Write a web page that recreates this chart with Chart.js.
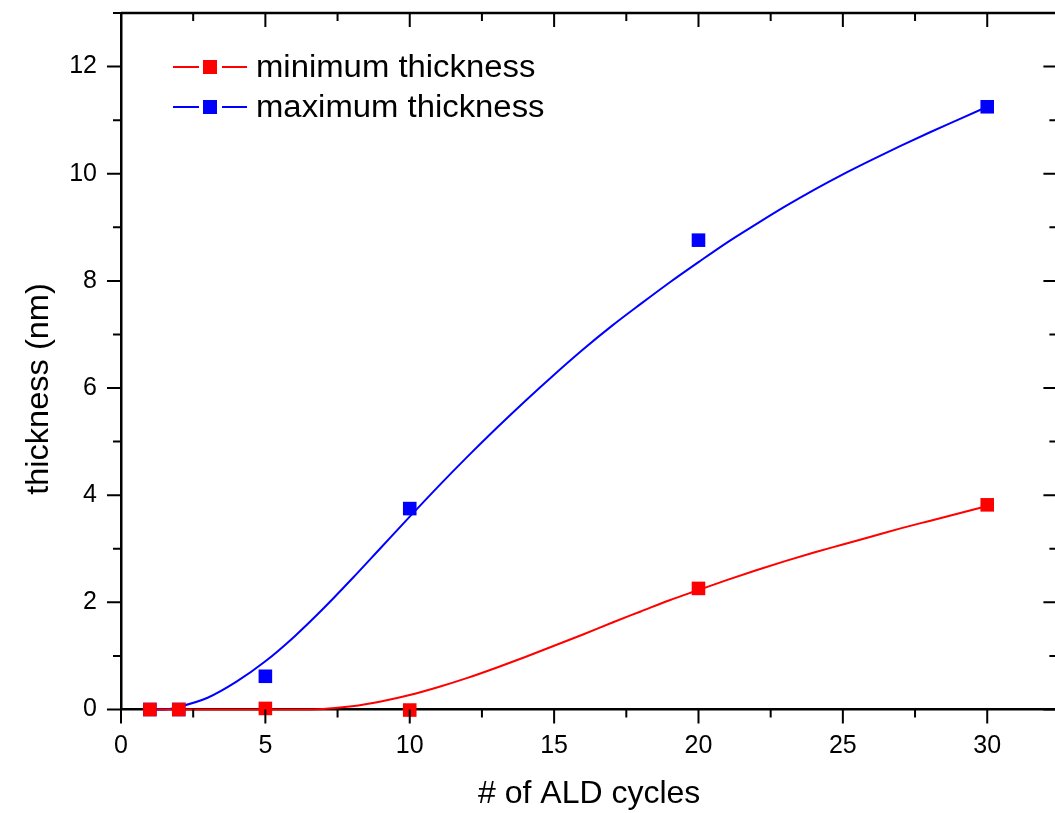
<!DOCTYPE html>
<html>
<head>
<meta charset="utf-8">
<script src="https://cdn.jsdelivr.net/npm/chart.js@4.4.0/dist/chart.umd.min.js"></script>
<style>
  body { margin: 0; background: #fff; overflow: hidden; }
  #box { width: 1055px; height: 813px; overflow: hidden; }
  canvas { display: block; }
</style>
</head>
<body>
<div id="box"><canvas id="grafico" width="1067" height="813"></canvas></div>
<script>
// measured points
var cicli = [1, 2, 5, 10, 20, 30];
var spessoreMin = [0, 0, 0.02, -0.01, 2.26, 3.82];
var spessoreMax = [0, 0, 0.62, 3.75, 8.76, 11.25];

// fitted curves
var fitMinX = [1, 2, 3, 4, 5, 6, 7, 8, 9, 10, 11, 12, 13, 14, 15, 16, 17, 18, 19, 20, 21, 22, 23, 24, 25, 26, 27, 28, 29, 30];
var fitMinY = [0, 0, 0, 0, 0, 0, 0.01, 0.06, 0.15, 0.27, 0.42, 0.59, 0.78, 0.98, 1.19, 1.4, 1.62, 1.83, 2.04, 2.23, 2.42, 2.6, 2.77, 2.93, 3.08, 3.23, 3.38, 3.52, 3.66, 3.8];
var fitMaxX = [1, 1.5, 2, 3, 4, 5, 6, 7, 8, 9, 10, 11, 12, 13, 14, 15, 16, 17, 18, 19, 20, 21, 22, 23, 24, 25, 26, 27, 28, 29, 30];
var fitMaxY = [0, 0, 0.05, 0.22, 0.52, 0.9, 1.36, 1.88, 2.44, 3.02, 3.6, 4.17, 4.72, 5.25, 5.76, 6.25, 6.72, 7.16, 7.57, 7.97, 8.35, 8.72, 9.06, 9.39, 9.7, 9.99, 10.26, 10.52, 10.77, 11.01, 11.25];

var xTicks = [0, 5, 10, 15, 20, 25, 30];
var yTicks = [0, 2, 4, 6, 8, 10, 12];
var etichette = ['minimum thickness', 'maximum thickness'];
var rosso = '#ff0000';
var blu = '#0000ff';
var font = 'Arial, "Liberation Sans", sans-serif';

function punti(xs, ys) {
    var out = [];
    for (var i = 0; i < xs.length; i++) out.push({x: xs[i], y: ys[i]});
    return out;
}

// ticks on all four sides + frame
var cornice = {
    id: 'cornice',
    afterDraw: function (chart) {
        var ctx = chart.ctx;
        var a = chart.chartArea;
        var sx = chart.scales.x, sy = chart.scales.y;
        ctx.save();
        ctx.strokeStyle = '#000';
        ctx.lineWidth = 2.5;
        ctx.beginPath();
        ctx.moveTo(a.left, a.top); ctx.lineTo(a.right, a.top);
        ctx.lineTo(a.right, a.bottom);
        ctx.stroke();
        ctx.lineWidth = 2;
        for (var v = 0; v <= 32.4; v += 2.5) {
            var px = sx.getPixelForValue(v);
            var major = v % 5 === 0;
            var l = major ? 14 : 8;
            ctx.beginPath();
            ctx.moveTo(px, a.bottom); ctx.lineTo(px, a.bottom + l);
            ctx.moveTo(px, a.top); ctx.lineTo(px, a.top + l);
            ctx.stroke();
        }
        for (var w = 0; w <= 13; w += 1) {
            var py = sy.getPixelForValue(w);
            var l2 = w % 2 === 0 ? 14 : 8;
            ctx.beginPath();
            ctx.moveTo(a.left, py); ctx.lineTo(a.left - l2, py);
            ctx.moveTo(a.right, py); ctx.lineTo(a.right - l2, py);
            ctx.stroke();
        }
        // y title
        ctx.fillStyle = '#000';
        ctx.font = '31px ' + font;
        ctx.textAlign = 'center';
        ctx.textBaseline = 'middle';
        ctx.translate(39, 389);
        ctx.rotate(-Math.PI / 2);
        ctx.scale(1.05, 1);
        ctx.fillText('thickness (nm)', 0, 0);
        ctx.restore();
    }
};

var legenda = {
    id: 'legenda',
    afterDraw: function (chart) {
        var ctx = chart.ctx;
        var colori = [rosso, blu];
        var righe = [67, 107];
        ctx.save();
        for (var i = 0; i < 2; i++) {
            var y = righe[i];
            ctx.strokeStyle = colori[i];
            ctx.fillStyle = colori[i];
            ctx.lineWidth = 2;
            ctx.beginPath();
            ctx.moveTo(173, y); ctx.lineTo(199, y);
            ctx.moveTo(222, y); ctx.lineTo(247, y);
            ctx.stroke();
            ctx.fillRect(203, y - 7, 14, 14);
            ctx.fillStyle = '#000';
            ctx.font = '31px ' + font;
            ctx.textAlign = 'left';
            ctx.textBaseline = 'middle';
            ctx.save();
            ctx.translate(256, y + 1);
            ctx.scale(1.06, 1);
            ctx.fillText(etichette[i], 0, 0);
            ctx.restore();
        }
        ctx.restore();
    }
};

var ctx = document.getElementById('grafico');
var chart = new Chart(ctx, {
    type: 'scatter',
    data: {
        datasets: [{
            label: etichette[0],
            data: punti(cicli, spessoreMin),
            backgroundColor: rosso,
            borderColor: rosso,
            pointStyle: 'rect',
            pointRadius: 9.6,
            borderWidth: 0,
            clip: false
        }, {
            label: etichette[1],
            data: punti(cicli, spessoreMax),
            backgroundColor: blu,
            borderColor: blu,
            pointStyle: 'rect',
            pointRadius: 9.6,
            borderWidth: 0,
            clip: false
        }, {
            label: 'fit min',
            data: punti(fitMinX, fitMinY),
            showLine: true,
            borderColor: rosso,
            borderWidth: 2,
            pointRadius: 0,
            cubicInterpolationMode: 'monotone',
            clip: false
        }, {
            label: 'fit max',
            data: punti(fitMaxX, fitMaxY),
            showLine: true,
            borderColor: blu,
            borderWidth: 2,
            pointRadius: 0,
            cubicInterpolationMode: 'monotone',
            clip: false
        }]
    },
    options: {
        responsive: false,
        animation: false,
        layout: { padding: { top: 13, right: 6, left: 0, bottom: 0 } },
        plugins: { legend: { display: false }, tooltip: { enabled: false } },
        scales: {
            x: {
                type: 'linear',
                min: 0,
                max: 32.43,
                afterFit: function (s) { s.height = 103.5; s.paddingLeft = 0; s.paddingRight = 0; },
                afterBuildTicks: function (s) { s.ticks = xTicks.map(function (v) { return {value: v}; }); },
                grid: { display: false, drawTicks: false },
                border: { display: true, color: '#000', width: 2.5 },
                ticks: { color: '#000', padding: 22, font: { size: 25, family: font } },
                title: { display: true, text: '# of ALD cycles', color: '#000', padding: { top: 0, bottom: 0 }, font: { size: 32, family: font } }
            },
            y: {
                type: 'linear',
                min: 0,
                max: 13,
                afterFit: function (s) { s.width = 121; s.paddingTop = 0; s.paddingBottom = 0; },
                afterBuildTicks: function (s) { s.ticks = yTicks.map(function (v) { return {value: v}; }); },
                grid: { display: false, drawTicks: false },
                border: { display: true, color: '#000', width: 2.5 },
                ticks: { color: '#000', padding: 24, font: { size: 25, family: font } }
            }
        }
    },
    plugins: [cornice, legenda]
});
</script>
</body>
</html>
